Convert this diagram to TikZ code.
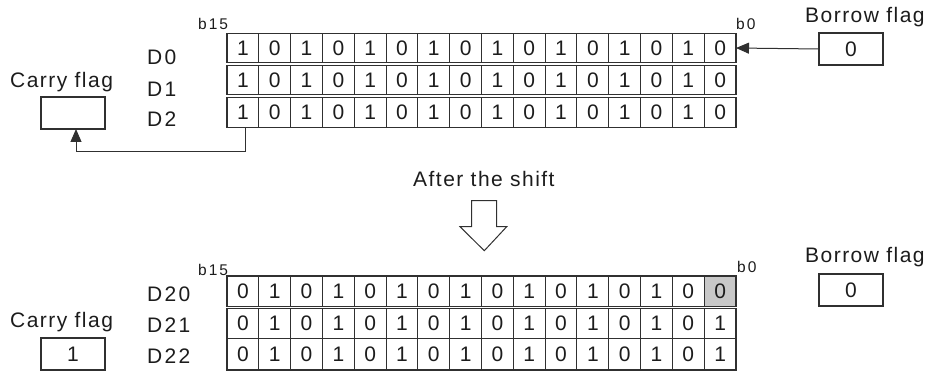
\documentclass[tikz,border=0pt]{standalone}
\usepackage{fontspec}
\setmainfont{Liberation Sans}
\newfontfamily\flagfont[LetterSpace=7]{Liberation Sans}
\newfontfamily\regfont[LetterSpace=11]{Liberation Sans}
\newfontfamily\bitfont[LetterSpace=13]{Liberation Sans}
\usetikzlibrary{arrows.meta,calc}
\definecolor{linec}{HTML}{303030}
\definecolor{txt}{HTML}{1c1c1c}
\definecolor{shade}{HTML}{C8C8C8}
\tikzset{
  cell/.style={draw=linec, line width=1.1pt, minimum width=31.81pt, minimum height=#1,
    inner sep=0pt, outer sep=0pt, text=txt, font=\fontsize{21}{24}\selectfont},
  flagbox/.style={draw=linec, line width=1.1pt, minimum width=64pt, minimum height=32pt,
    inner sep=0pt, outer sep=0pt, text=txt, font=\fontsize{21}{24}\selectfont},
  flaglbl/.style={anchor=base west, inner sep=0pt, text=txt, font=\flagfont\fontsize{21}{24}\selectfont},
  reglbl/.style={anchor=base west, inner sep=0pt, text=txt, font=\regfont\fontsize{21}{24}\selectfont},
  bitlbl/.style={anchor=base west, inner sep=0pt, text=txt, font=\bitfont\fontsize{15.5}{18}\selectfont},
  conn/.style={draw=linec, line width=1pt, -{Triangle[length=13pt,width=11pt]}},
}
\begin{document}
\begin{tikzpicture}[x=1pt,y=-1pt]
\useasboundingbox (0,0) rectangle (930,374);
% top grid
\foreach \r/\yc/\h in {0/48/29.4pt, 1/80/29.4pt, 2/112.3/30pt}{
  \foreach \b [count=\i from 0] in {1,0,1,0,1,0,1,0,1,0,1,0,1,0,1,0}{
    \node[cell=\h] (T\r-\i) at ({227+31.8125*(\i+0.5)},\yc) {\b};
  }
}
% bottom grid
\foreach \r/\yc/\h/\bits in {0/291.35/30.7pt/{0,1,0,1,0,1,0,1,0,1,0,1,0,1,0,0},
                             1/323.5/29.6pt/{0,1,0,1,0,1,0,1,0,1,0,1,0,1,0,1},
                             2/354.15/31.7pt/{0,1,0,1,0,1,0,1,0,1,0,1,0,1,0,1}}{
  \foreach \b [count=\i from 0] in \bits{
    \node[cell=\h] (B\r-\i) at ({227+31.8125*(\i+0.5)},\yc) {\b};
  }
}
\node[cell=30.7pt, fill=shade] (B0-15) at ({227+31.8125*15.5},291.35) {0};
% register labels
\node[reglbl] (d0) at (147,64.5) {D0};
\node[reglbl] (d1) at (147,96.5) {D1};
\node[reglbl] (d2) at (147,127) {D2};
\node[reglbl] (d20) at (147,301.5) {D20};
\node[reglbl] (d21) at (147,332.5) {D21};
\node[reglbl] (d22) at (147,363.5) {D22};
% bit labels
\node[bitlbl] (b15t) at (198,30) {b15};
\node[bitlbl] (b0t) at (736,30) {b0};
\node[bitlbl] (b15b) at (198,276) {b15};
\node[bitlbl] (b0b) at (737,273) {b0};
% flags
\node[flaglbl] (cl1) at (10,87.5) {Carry flag};
\node[flagbox] (cbox1) at (73,113) {};
\node[flaglbl] (bl1) at (805,22.7) {Borrow flag};
\node[flagbox] (bbox1) at (851,49) {0};
\node[flaglbl] (cl2) at (10,327) {Carry flag};
\node[flagbox] (cbox2) at (73,354) {1};
\node[flaglbl] (bl2) at (805,262.7) {Borrow flag};
\node[flagbox] (bbox2) at (851,290) {0};
% connectors
\draw[conn] (bbox1.west) -- (T0-15.east);
\draw[conn] ([xshift=2.4pt]T2-0.south) -- ++(0,24.5) -| ([xshift=3pt]cbox1.south);
% after the shift
\node[flaglbl] (after) at (413,186.7) {After the shift};
\draw[draw=linec, line width=1pt, line join=miter] (471.7,200.7) -- (496.7,200.7) -- (496.7,226.7) -- (506.7,226.7)
  -- (484.3,250.7) -- (460,226.7) -- (471.7,226.7) -- cycle;
\end{tikzpicture}
\end{document}
